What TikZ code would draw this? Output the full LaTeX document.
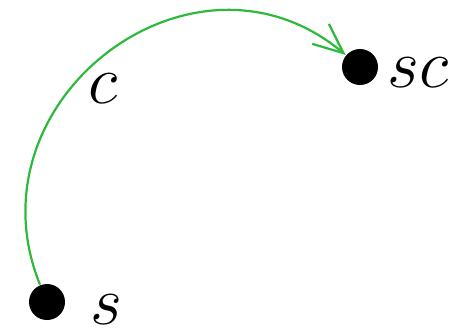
\documentclass[tikz,border=0pt]{standalone}
\usetikzlibrary{arrows.meta}
\definecolor{curvegreen}{RGB}{45,185,60}
\begin{document}
\begin{tikzpicture}[x=0.25pt,y=-0.25pt,
  dot/.style={circle,fill=black,minimum size=9pt,inner sep=0pt},
  lbl/.style={font=\LARGE,inner sep=0pt},
  path/.style={draw=curvegreen,line width=0.55pt,-{Straight Barb[length=7.5pt,width=6.5pt,line width=0.55pt]}}]
\useasboundingbox (0,0) rectangle (466,334);
\node[dot] (s) at (47,302) {};
\node[dot] (sc) at (360,67) {};
\node[lbl] (ls) at (106,310) {$s$};
\node[lbl] (lsc) at (418,73) {$sc$};
\node[lbl] (lc) at (103,89) {$c$};
\draw[path] (s) to[out=112,in=140,looseness=1.33] (sc);
\end{tikzpicture}
\end{document}
